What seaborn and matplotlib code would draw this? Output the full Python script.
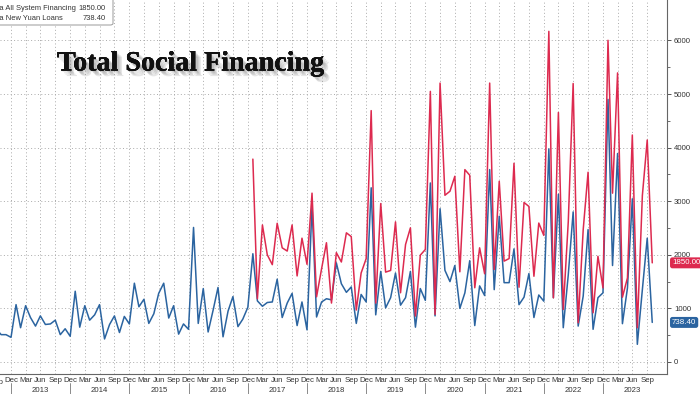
import matplotlib
matplotlib.use("Agg")
import numpy as np
import pandas as pd
import seaborn as sns
import matplotlib.pyplot as plt
import matplotlib.dates as mdates
import matplotlib.patheffects as pe
from matplotlib.patches import FancyBboxPatch

# monthly new yuan loans, bn yuan, Sep 2012 - Oct 2023
new_loans = [
    620, 510, 510, 460,
    1070, 640, 1050, 830, 670, 860, 700, 710, 780, 510, 620, 480,
    1320, 650, 1050, 780, 880, 1070, 430, 700, 860, 550, 850, 710,
    1470, 1030, 1170, 720, 900, 1280, 1470, 820, 1050, 520, 710, 610,
    2510, 720, 1370, 560, 970, 1390, 470, 950, 1220, 660, 800, 1020,
    2020, 1140, 1040, 1110, 1120, 1545, 830, 1100, 1280, 680, 1120, 600,
    2920, 840, 1120, 1180, 1160, 1850, 1460, 1300, 1400, 720, 1260, 1120,
    3250, 880, 1690, 1010, 1200, 1660, 1060, 1200, 1690, 650, 1370, 1150,
    3340, 860, 2860, 1710, 1500, 1800, 1000, 1290, 1890, 680, 1420, 1240,
    3590, 1350, 2720, 1480, 1480, 2110, 1070, 1210, 1650, 830, 1250, 1135,
    3975, 1200, 3130, 640, 1630, 2800, 670, 1230, 2470, 610, 1200, 1290,
    4900, 1800, 3890, 715, 1380, 3045, 330, 1350, 2310, 738.40,
]
# all system financing, bn yuan, Jan 2017 - Oct 2023
all_financing = [
    3785, 1180, 2557, 2000, 1816, 2588, 2130, 2070, 2557, 1606, 2310, 1823,
    3150, 1216, 1740, 2225, 1100, 2040, 1866, 2410, 2340, 969, 1661, 1928,
    4690, 1100, 2956, 1677, 1708, 2614, 1292, 2192, 2503, 857, 1993, 2099,
    5049, 888, 5204, 3111, 3186, 3465, 1683, 3589, 3484, 1385, 2130, 1646,
    5204, 1726, 3372, 1882, 1930, 3708, 1395, 2976, 2902, 1600, 2592, 2362,
    6169, 1197, 4656, 980, 2623, 5196, 732, 2468, 3540, 918, 1972, 1383,
    6002, 3150, 5394, 1209, 1569, 4235, 639, 3106, 4142, 1850.00,
]
loan_dates = pd.date_range("2012-09-30", periods=len(new_loans), freq="ME")
tsf_dates = pd.date_range("2017-01-31", periods=len(all_financing), freq="ME")

series_names = ["China All System Financing", "China New Yuan Loans"]
title = "Total Social Financing"
years = list(range(2013, 2024))

RED = "#dd2a4f"
BLUE = "#2b64a0"
TXT = "#333333"
FS = 5.6

sns.set_style("white")
plt.rcParams["font.family"] = ["Liberation Sans", "DejaVu Sans"]

W, H = 700, 394
fig = plt.figure(figsize=(7, 3.94), dpi=100)
ax = fig.add_axes([0, 1 - 374 / H, 667 / W, 374 / H])

df_loans = pd.DataFrame({"date": loan_dates, "value": new_loans})
df_tsf = pd.DataFrame({"date": tsf_dates, "value": all_financing})
sns.lineplot(data=df_loans, x="date", y="value", color=BLUE, lw=1.1, ax=ax)
sns.lineplot(data=df_tsf, x="date", y="value", color=RED, lw=1.1, ax=ax)

ax.set_xlim(pd.Timestamp("2012-10-24"), pd.Timestamp("2024-01-30"))
ax.set_ylim(-224, 6754)
ax.set_xlabel("")
ax.set_ylabel("")

# quarter-end month ticks, year labels underneath
qticks = pd.date_range("2012-12-31", "2023-09-30", freq="3ME")
ax.set_xticks(qticks, labels=[d.strftime("%b") for d in qticks])
mid = [pd.Timestamp(f"{y}-07-01") for y in years]
ax.set_xticks(mid, labels=[str(y) for y in years], minor=True)
ax.tick_params(axis="x", which="major", length=0, pad=2.2, labelsize=FS, labelcolor=TXT)
ax.tick_params(axis="x", which="minor", length=0, pad=9.5, labelsize=FS, labelcolor=TXT)

xt = ax.get_xaxis_transform()
ax.text(mdates.date2num(pd.Timestamp("2012-09-30")), -0.0125, "Sep", transform=xt,
        ha="center", va="top", fontsize=FS, color=TXT, clip_on=False)
ax.text(mdates.date2num(pd.Timestamp("2012-07-01")), -0.0365, "2012", transform=xt,
        ha="center", va="top", fontsize=FS, color=TXT, clip_on=False)
for y in range(2012, 2023):
    d = mdates.date2num(pd.Timestamp(f"{y}-12-31"))
    ax.plot([d, d], [-0.025, -0.06], transform=xt, color="#777777", lw=0.6, clip_on=False)

ax.yaxis.tick_right()
ax.set_yticks(np.arange(0, 7000, 1000))
ax.set_yticks(np.arange(500, 6500, 1000), minor=True)
ax.tick_params(axis="y", which="major", length=3, width=0.7, pad=2, labelsize=FS,
               labelcolor=TXT, color="#555555")
ax.tick_params(axis="y", which="minor", length=2, width=0.6, color="#555555")

ax.grid(True, which="major", color="#aaaaaa", linestyle=(0, (1, 2.5)), linewidth=0.7)
for s in ["left", "top"]:
    ax.spines[s].set_visible(False)
for s in ["right", "bottom"]:
    ax.spines[s].set_color("#666666")
    ax.spines[s].set_linewidth(0.8)

# last value boxes on the right axis
for vals, col in [(all_financing, RED), (new_loans, BLUE)]:
    ax.annotate(f"{vals[-1]:.2f}", xy=(1, vals[-1]), xycoords=("axes fraction", "data"),
                xytext=(3.6, 0), textcoords="offset points", ha="left", va="center",
                fontsize=5.7, color="white", annotation_clip=False,
                bbox=dict(boxstyle="round,pad=0.25,rounding_size=0.3", fc=col, ec="none"))

# legend box, cut off at the left edge like the original
box = FancyBboxPatch((-10 / W, 1 - 25 / H), 123 / W, 35 / H, transform=fig.transFigure,
                     boxstyle="round,pad=0,rounding_size=0.004", fc="white", ec="#999999",
                     lw=0.7, zorder=5)
fig.patches.append(box)
for i, (name, vals) in enumerate(zip(series_names, [all_financing, new_loans])):
    yy = 1 - (9 + 9 * i) / H
    fig.text(-15.6 / W, yy, name, ha="left", va="center", fontsize=5.45, color=TXT, zorder=6)
    fig.text(106 / W, yy, f"{vals[-1]:.2f}", ha="right", va="center", fontsize=5.45,
             color=TXT, zorder=6)

# soft drop shadow under the title
shadow = [pe.withSimplePatchShadow(offset=(o, -o), shadow_rgbFace="#777777", alpha=0.18)
          for o in (1, 2, 3, 4)]
fig.text(57 / W, 1 - 64 / H, title, ha="left", va="center", fontsize=20.2,
         fontweight="bold", family="Liberation Serif", color="#111111",
         path_effects=shadow + [pe.Normal()])

fig.savefig("out.png", dpi=100)
